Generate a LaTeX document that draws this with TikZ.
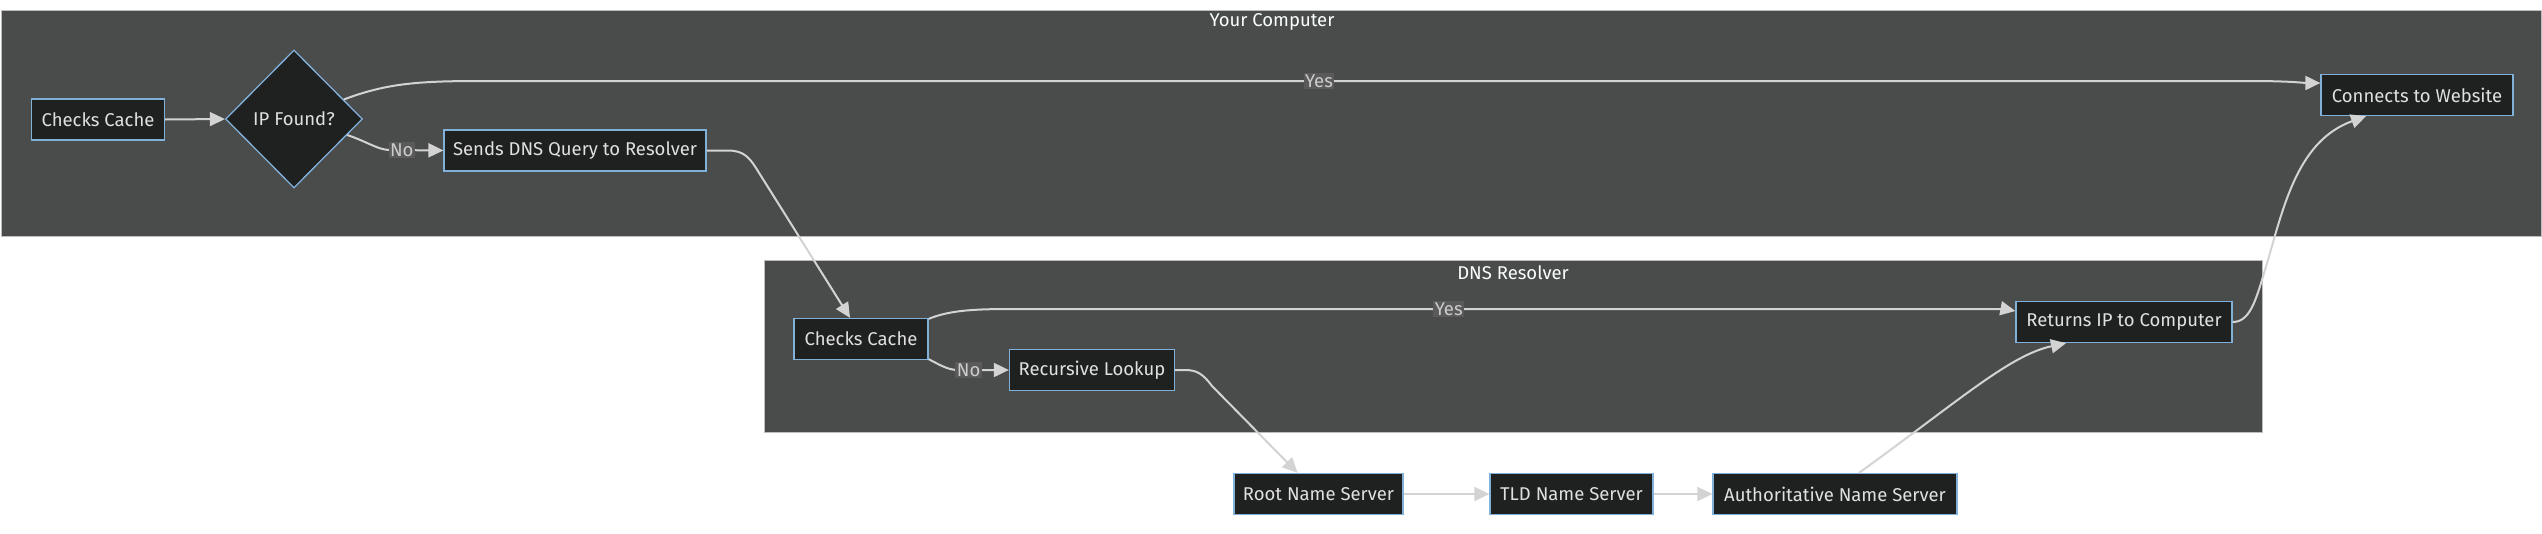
\documentclass[tikz,border=0pt]{standalone}
\usepackage{fontspec}
\setmainfont{Fira Sans}
\usetikzlibrary{shapes.geometric,arrows.meta,calc}
\definecolor{clusterbg}{HTML}{4A4B4B}
\definecolor{clusterline}{HTML}{BDBDBD}
\definecolor{nodebg}{HTML}{1F2020}
\definecolor{nodeline}{HTML}{81B1DB}
\definecolor{nodetext}{HTML}{E0E0E0}
\definecolor{edgecol}{HTML}{D3D3D3}
\definecolor{lblbg}{HTML}{5A5A5A}
\definecolor{lbltext}{HTML}{CCCCCC}
\definecolor{titletext}{HTML}{F9FFFE}
\newcommand{\dfont}{\fontsize{18.5}{22}\selectfont}
\tikzset{
  cluster/.style={fill=clusterbg, draw=clusterline, line width=1pt},
  box/.style={draw=nodeline, fill=nodebg, line width=1.3pt, text=nodetext,
    minimum height=41pt, inner sep=0pt, font=\dfont},
  decision/.style={diamond, draw=nodeline, fill=nodebg, line width=1.3pt,
    text=nodetext, minimum width=137pt, minimum height=138pt, inner sep=0pt, font=\dfont},
  flow/.style={draw=edgecol, line width=2pt, -{Triangle[length=15pt,width=14pt]}},
  lbl/.style={fill=lblbg, text=lbltext, inner sep=1.5pt, font=\dfont},
  ctitle/.style={text=titletext, font=\dfont, inner sep=0pt}
}
\begin{document}
\begin{tikzpicture}[x=1pt,y=-1pt]
\useasboundingbox (0,0) rectangle (2542,533);
% clusters
\path[cluster] (1,10) rectangle (2541.5,236);
\node[ctitle] (t1) at (1272,21.5) {Your Computer};
\path[cluster] (764.5,260) rectangle (2262,432);
\node[ctitle] (t2) at (1513,272.5) {DNS Resolver};

% nodes
\node[box, minimum width=133pt] (A) at (98,119.5) {Checks Cache};
\node[decision] (D) at (294,119) {IP Found?};
\node[box, minimum width=262pt] (S) at (575,150.5) {Sends DNS Query to Resolver};
\node[box, minimum width=192pt] (C) at (2417,95) {Connects to Website};
\node[box, minimum width=134pt] (B) at (861,339) {Checks Cache};
\node[box, minimum width=165pt] (R) at (1092,370) {Recursive Lookup};
\node[box, minimum width=216pt] (P) at (2124,322) {Returns IP to Computer};
\node[box, minimum width=169pt] (Root) at (1318.5,494) {Root Name Server};
\node[box, minimum width=163pt] (TLD) at (1571.5,494) {TLD Name Server};
\node[box, minimum width=244pt] (Auth) at (1835,494) {Authoritative Name Server};

% edges
\draw[flow] (A.east) -- (D.west);
\draw[flow] ($(D.east)!0.28!(D.north)$) .. controls (385,84) and (415,81) .. (480,81)
  -- node[lbl, pos=0.474] (yes1) {Yes} (2250,81)
  .. controls (2290,81) and (2305,83) .. ($(C.west)+(0,-12)$);
\draw[flow] ($(D.east)!0.23!(D.south)$) .. controls (368,142) and (378,150) .. (390,150)
  -- node[lbl, pos=0.22] (no1) {No} (S.west);
\draw[flow] (S.east) -- (728,150.5) .. controls (743,150.5) and (749,157) .. (756,168)
  -- ($(B.north)+(-11,0)$);
\draw[flow] ($(B.north east)+(0,1)$) .. controls (948,311) and (970,309) .. (1010,309)
  -- node[lbl, pos=0.45] (yes2) {Yes} (1985,309)
  .. controls (2003,309) and (2010,310) .. ($(P.west)+(0,-11)$);
\draw[flow] ($(B.south east)+(0,-1)$) .. controls (940,365) and (948,370) .. (958,370)
  -- node[lbl, pos=0.21] (no2) {No} (R.west);
\draw[flow] (R.east) -- (1185,370) .. controls (1197,370) and (1203,374) .. (1212,386)
  -- ($(Root.north)+(-21,0)$);
\draw[flow] (Root.east) -- (TLD.west);
\draw[flow] (TLD.east) -- (Auth.west);
\draw[flow] ($(Auth.north)+(24,0)$) .. controls (1960,400) and (2010,355) .. ($(P.south)+(-58,0)$);
\draw[flow] (P.east) .. controls (2252,322) and (2257,295) .. (2268,260)
  .. controls (2285,200) and (2300,140) .. ($(C.south)+(-51,0)$);
\end{tikzpicture}
\end{document}
